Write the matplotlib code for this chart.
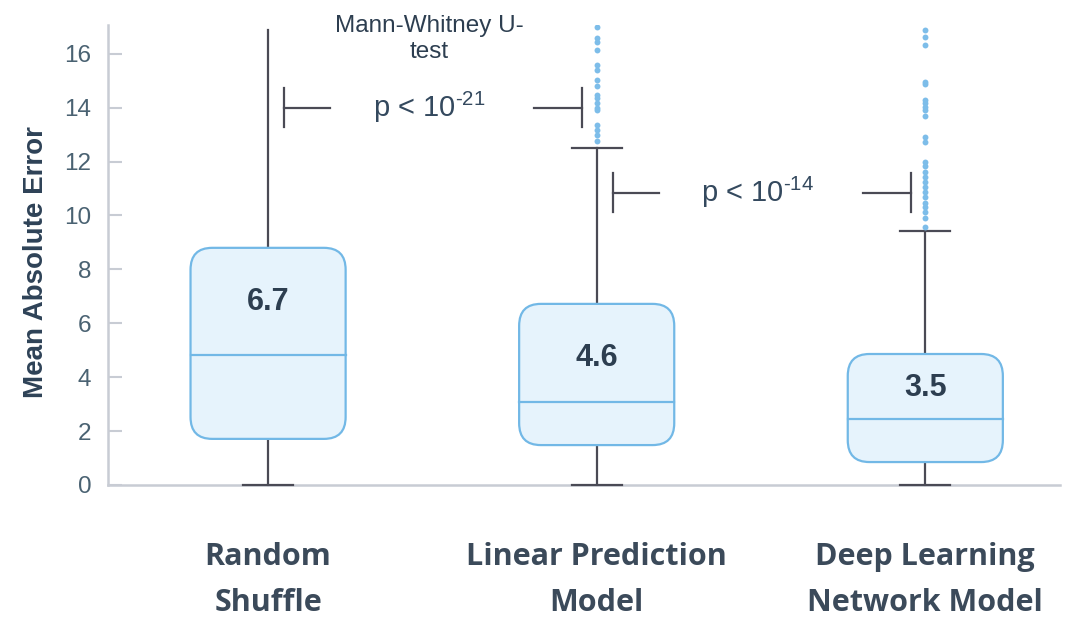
import matplotlib.pyplot as plt
from matplotlib.patches import FancyBboxPatch

plt.rcParams['mathtext.fontset'] = 'custom'
plt.rcParams['mathtext.rm'] = 'Liberation Sans'
plt.rcParams['mathtext.it'] = 'Liberation Sans:italic'
plt.rcParams['mathtext.bf'] = 'Liberation Sans:bold'

# data
categories = ['Random\nShuffle', 'Linear Prediction\nModel', 'Deep Learning\nNetwork Model']
means = [6.7, 4.6, 3.5]
q1 = [1.71, 1.48, 0.85]
medians = [4.83, 3.08, 2.45]
q3 = [8.8, 6.72, 4.86]
whislo = [0, 0, 0]
whishi = [16.87, 12.5, 9.43]
fliers = [
    [],
    [17.0, 16.59, 16.44, 16.15, 15.59, 15.4, 15.03, 14.81, 14.48, 14.36,
     14.18, 14.0, 13.9, 13.36, 13.18, 12.99, 12.77],
    [16.89, 16.64, 16.33, 14.97, 14.88, 14.3, 14.18, 14.03, 13.92, 13.7,
     12.93, 12.71, 12.0, 11.82, 11.63, 11.44, 11.26, 11.07, 10.89, 10.7,
     10.46, 10.33, 10.14, 9.9, 9.59],
]
pvals = ['-21', '-14']

box_edge = '#72b8e6'
box_fill = '#e6f3fc'
whisk = '#4a4a55'
dot = '#7dbde9'

fig = plt.figure(figsize=(10.74, 6.17), dpi=100)
ax = fig.add_axes([0.1006, 0.214, 0.8864, 0.7455])

pos = [1, 2, 3]
bw = 0.472
capw = 0.152
for i, x in enumerate(pos):
    # whiskers
    ax.plot([x, x], [whislo[i], q1[i]], color=whisk, lw=1.6, zorder=2, clip_on=False)
    ax.plot([x, x], [q3[i], whishi[i]], color=whisk, lw=1.6, zorder=2)
    ax.plot([x - capw / 2, x + capw / 2], [whislo[i], whislo[i]], color=whisk, lw=1.6,
            zorder=3, clip_on=False)
    if i > 0:
        ax.plot([x - capw / 2, x + capw / 2], [whishi[i], whishi[i]], color=whisk, lw=1.6, zorder=2)
    # rounded box
    box = FancyBboxPatch((x - bw / 2, q1[i]), bw, q3[i] - q1[i],
                         boxstyle='round,pad=0,rounding_size=0.066',
                         mutation_aspect=12.3, fc=box_fill, ec=box_edge, lw=1.6, zorder=3)
    ax.add_patch(box)
    ax.plot([x - bw / 2, x + bw / 2], [medians[i], medians[i]], color=box_edge, lw=1.6, zorder=4)
    ax.scatter([x] * len(fliers[i]), fliers[i], s=18, color=dot, zorder=4, linewidths=0)
    ax.text(x, means[i] + 0.1, f'{means[i]}', ha='center', va='center', fontsize=22,
            fontweight='bold', color='#2d3e50', family='Liberation Sans', zorder=5)

# significance brackets
for j, (a, b) in enumerate([(1, 2), (2, 3)]):
    y = [14.0, 10.84][j]
    l0, l1 = a + 0.049, a + 0.189
    r0, r1 = b - 0.19, b - 0.045
    ax.plot([l0, l0], [y - 0.72, y + 0.72], color=whisk, lw=1.6)
    ax.plot([l0, l1], [y, y], color=whisk, lw=1.6)
    ax.plot([r0, r1], [y, y], color=whisk, lw=1.6)
    ax.plot([r1, r1], [y - 0.72, y + 0.72], color=whisk, lw=1.6)
    ax.text((a + b) / 2 - 0.01, y, r'p < 10$^{\text{' + pvals[j] + '}}$', ha='center',
            va='center', fontsize=21, color='#34495e', family='Liberation Sans')

ax.text(1.49, 16.55, 'Mann-Whitney U-\ntest', ha='center', va='center', fontsize=17.5,
        color='#2d3e50', family='Liberation Sans', linespacing=1.2)

ax.set_xlim(0.513, 3.41)
ax.set_ylim(0, 17.07)
ax.set_yticks(range(0, 17, 2))
ax.set_xticks(pos)
ax.set_xticklabels(categories, fontsize=22, fontweight='bold', color='#3b4a5a',
                   family='Open Sans', linespacing=1.7)
ax.tick_params(axis='x', length=0, pad=41)
ax.tick_params(axis='y', direction='in', length=10, width=1.5, color='#c8ccd4',
               labelsize=17.5, labelcolor='#4a6272', pad=12)
for lab in ax.get_yticklabels():
    lab.set_family('Liberation Sans')
ax.set_ylabel('Mean Absolute Error', fontsize=20, fontweight='bold', color='#2e4257',
              family='Liberation Sans')
ax.yaxis.set_label_coords(-0.062, 0.485)
for s in ['top', 'right']:
    ax.spines[s].set_visible(False)
for s in ['left', 'bottom']:
    ax.spines[s].set_color('#c8ccd4')
    ax.spines[s].set_linewidth(1.8)

fig.savefig('out.png', dpi=100)
